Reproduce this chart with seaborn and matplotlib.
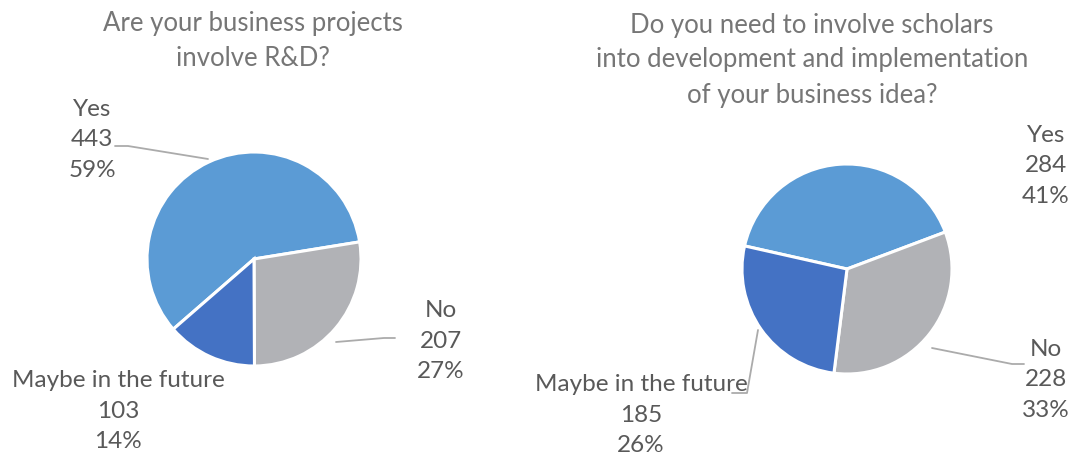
import matplotlib.pyplot as plt
import seaborn as sns

categories = ["Yes", "No", "Maybe in the future"]
rd_counts = [443, 207, 103]
rd_pcts = [59, 27, 14]
scholars_counts = [284, 228, 185]
scholars_pcts = [41, 33, 26]

rd_title = "Are your business projects\ninvolve R&D?"
scholars_title = "Do you need to involve scholars\ninto development and implementation\nof your business idea?"

sns.set_theme(style="white")
plt.rcParams["font.family"] = ["Lato", "DejaVu Sans"]

colors = ["#5B9BD5", "#B1B2B6", "#4472C4"]
label_color = "#595959"
title_color = "#767676"
line_color = "#ABABAB"
label_size = 17.5
title_size = 18.5

W, H = 1069, 458
fig = plt.figure(figsize=(W / 100, H / 100), dpi=100)
ax = fig.add_axes([0, 0, 1, 1])


def Y(y):
    # image pixel row -> axes y (y up)
    return H - y


def draw_pie(counts, center, radius, start):
    ax.pie(counts, colors=colors, center=center, radius=radius,
           startangle=start, counterclock=False,
           wedgeprops=dict(edgecolor="white", linewidth=2.2), frame=True)
    ax.set_xlim(0, W)
    ax.set_ylim(0, H)
    ax.set_aspect("equal")
    ax.axis("off")


def put_label(x, y, i, counts, pcts):
    ax.text(x, Y(y), f"{categories[i]}\n{counts[i]}\n{pcts[i]}%",
            ha="center", va="center", fontsize=label_size,
            color=label_color, linespacing=1.55)


# left pie
draw_pie(rd_counts, (254, Y(259)), 107, 221)
ax.text(253, Y(41), rd_title, ha="center", va="center", fontsize=title_size,
        color=title_color, linespacing=1.5)
put_label(92, 140, 0, rd_counts, rd_pcts)
put_label(441, 341, 1, rd_counts, rd_pcts)
put_label(118, 411, 2, rd_counts, rd_pcts)
ax.plot([115, 128, 208], [Y(146), Y(146), Y(159)], color=line_color, lw=1.3)
ax.plot([336, 384, 395], [Y(342), Y(338), Y(338)], color=line_color, lw=1.3)

# right pie
draw_pie(scholars_counts, (847, Y(269)), 105, 167.3)
ax.text(812, Y(60), scholars_title, ha="center", va="center", fontsize=title_size,
        color=title_color, linespacing=1.5)
put_label(1046, 166, 0, scholars_counts, scholars_pcts)
put_label(1046, 380, 1, scholars_counts, scholars_pcts)
put_label(641, 415, 2, scholars_counts, scholars_pcts)
ax.plot([932, 1012, 1024], [Y(348), Y(364), Y(364)], color=line_color, lw=1.3)
ax.plot([758, 747, 732], [Y(330), Y(393), Y(393)], color=line_color, lw=1.3)

fig.savefig("out.png", dpi=100, facecolor="white")
